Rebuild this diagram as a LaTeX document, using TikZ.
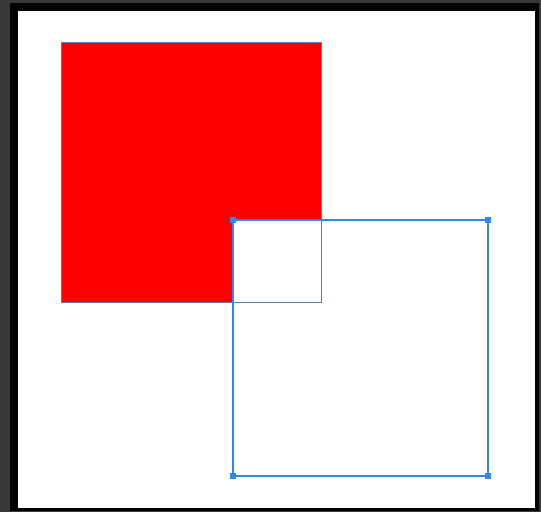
\documentclass[tikz,border=0pt]{standalone}
\usepackage{tikz}
\definecolor{panelgray}{HTML}{3A3838}
\definecolor{edgeblue}{HTML}{5B80AE}
\definecolor{selblue}{HTML}{3388E6}
\tikzset{
    handle/.style={fill=selblue, minimum size=6pt, inner sep=0pt}
}
\begin{document}
\begin{tikzpicture}[x=1pt, y=-1pt]
        \useasboundingbox (0, 0) rectangle (541, 512);
        % window
        \fill[panelgray] (0, 0) rectangle (541, 512);
        \fill[black] (10, 3) rectangle (539, 511);
        \fill[white] (18, 11) rectangle (535, 508);
        % red square, overlap cut out
        \fill[red] (61, 42) -- (321, 42) -- (321, 220) -- (233, 220) -- (233, 302) -- (61, 302) -- cycle;
        \draw[edgeblue, line width=1pt] (61, 42) rectangle (321, 302);
        % selection square
        \coordinate (tl) at (233, 220);
        \coordinate (tr) at (488, 220);
        \coordinate (br) at (488, 476);
        \coordinate (bl) at (233, 476);
        \draw[selblue, line width=1.1pt] (tl) -- (tr) -- (br) -- (bl) -- cycle;
        \foreach \c in {tl, tr, br, bl}
            \node[handle] at (\c) {};
    \end{tikzpicture}
\end{document}
